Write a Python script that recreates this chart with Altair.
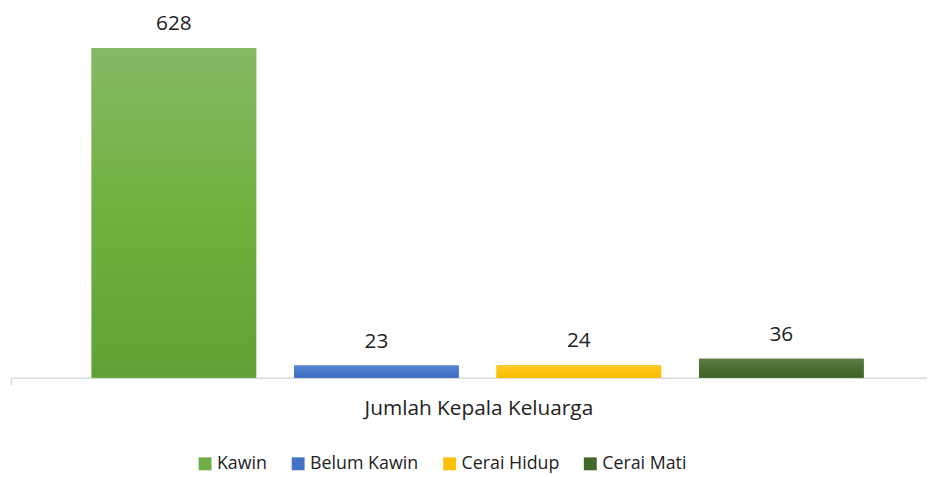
import altair as alt
import pandas as pd

series = ["Kawin", "Belum Kawin", "Cerai Hidup", "Cerai Mati"]
values = [628, 23, 24, 36]
category = "Jumlah Kepala Keluarga"

base_colors = ["#70AD47", "#4472C4", "#FFC000", "#43682B"]
top_colors = ["#85B965", "#5B87D2", "#FFCB33", "#5F7F47"]
mid_colors = ["#6FB13E", "#4977C8", "#FFC20E", "#4A6E30"]
bot_colors = ["#62A135", "#3A6BC4", "#F5BC00", "#3C6424"]

df = pd.DataFrame({"series": series, "value": values})

W, H = 925, 371
FONT = "Open Sans"

xscale = alt.Scale(domain=series, paddingInner=0.187, paddingOuter=0.3555, align=0.56)
yscale = alt.Scale(domain=[0, 700])

x_enc = alt.X("series:N", scale=xscale, sort=series,
              axis=alt.Axis(labels=False, ticks=False, domain=True, domainColor="#D9D9D9",
                            domainWidth=1.5, title=category, titleFont=FONT,
                            titleFontSize=21, titleFontWeight="normal", titleColor="#222222",
                            titlePadding=20, titleX=472, titleAlign="center"))
y_enc = alt.Y("value:Q", scale=yscale, axis=None)

legend_bars = alt.Chart(df).mark_bar().encode(
    x=x_enc,
    y=y_enc,
    color=alt.Color("series:N", sort=series,
                    scale=alt.Scale(domain=series, range=base_colors),
                    legend=alt.Legend(orient="none", legendX=187, legendY=449,
                                      direction="horizontal", title=None,
                                      symbolType="square", symbolSize=170, symbolStrokeWidth=0,
                                      labelFont=FONT, labelFontSize=18, labelColor="#222222",
                                      columnPadding=22, labelOffset=3)),
)

layers = [legend_bars]
for s, t, m, b in zip(series, top_colors, mid_colors, bot_colors):
    grad = alt.Gradient(gradient="linear", x1=0, y1=0, x2=0, y2=1,
                        stops=[alt.GradientStop(color=t, offset=0),
                               alt.GradientStop(color=m, offset=0.5),
                               alt.GradientStop(color=b, offset=1)])
    layers.append(
        alt.Chart(df).transform_filter(alt.datum.series == s)
        .mark_bar(color=grad).encode(x="series:N", y="value:Q")
    )

labels = alt.Chart(df).mark_text(font=FONT, fontSize=21, color="#222222",
                                 baseline="alphabetic", dy=-18).encode(
    x="series:N", y="value:Q", text="value:Q")

left_tick = alt.Chart(df.head(1)).mark_rule(color="#D9D9D9", strokeWidth=1.5).encode(
    x=alt.value(0.5), y=alt.value(H), y2=alt.value(H + 8))

chart = alt.layer(*layers, labels, left_tick).properties(
    width=W, height=H, background="white",
    padding={"left": 2, "top": 0, "right": 0, "bottom": 0}
).configure_view(stroke="transparent", strokeWidth=0)

chart.save("out.html", embed_options={"renderer": "svg", "actions": False})
